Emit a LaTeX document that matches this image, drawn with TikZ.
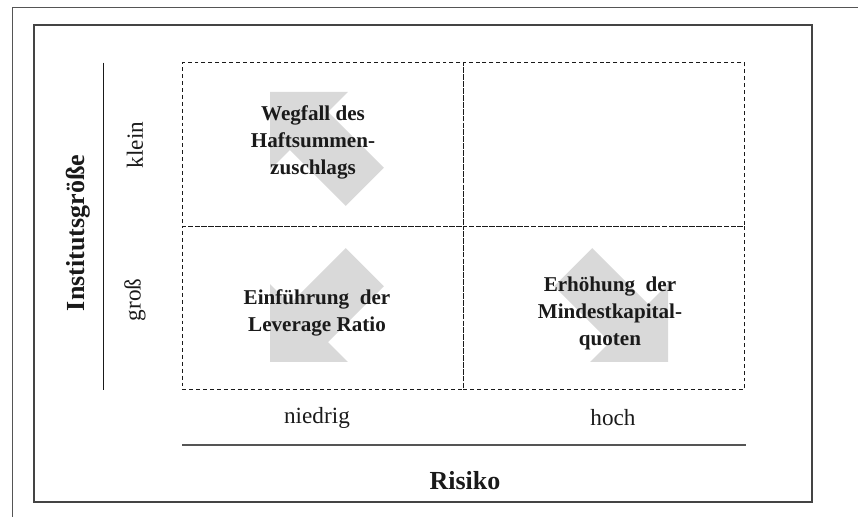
\documentclass[tikz,border=0pt]{standalone}
\usepackage{fontspec}
\setmainfont{Liberation Serif}
\usetikzlibrary{positioning,calc}
\definecolor{ink}{HTML}{1A1A1A}
\definecolor{frame}{HTML}{444444}
\definecolor{rulegray}{HTML}{555555}
\definecolor{arrowgray}{HTML}{D9D9D9}
\tikzset{cell/.style={draw=ink,dash pattern=on 2.8pt off 2.1pt,line width=0.7pt,minimum width=7.025cm,minimum height=4.0875cm,inner sep=0pt,outer sep=0pt},measure/.style={font=\fontsize{15}{19.2}\selectfont\bfseries,align=center,text=ink},level/.style={font=\fontsize{16.5}{19}\selectfont,text=ink},axis/.style={font=\fontsize{18.5}{22}\selectfont\bfseries,text=ink},blockarrow/.pic={\fill[arrowgray] (0,0)--(-55,55)--(-55,27)--(-134,27)--(-134,-27)--(-55,-27)--(-55,-55)--cycle;}}

\begin{document}
\begin{tikzpicture}[x=0.025cm,y=-0.025cm]
\useasboundingbox (0,0) rectangle (858,517);
\draw[rulegray,line width=0.6pt] (12,517)--(12,7)--(858,7);
\draw[frame,line width=1.1pt] (34,25) rectangle (812,502);
% matrix of the four cells
\node[cell] (smallLow) at (323,144.5) {};
\node[cell,right=0pt of smallLow] (smallHigh) {};
\node[cell,below=0pt of smallLow] (bigLow) {};
\node[cell,right=0pt of bigLow] (bigHigh) {};
\pic[rotate=135] at (270,92) {blockarrow};
\pic[rotate=225] at (270,362) {blockarrow};
\pic[rotate=-45] at (668,362) {blockarrow};
\node[measure] (surcharge) at (313,142) {Wegfall des\\Haftsummen-\\zuschlags};
\node[measure] (leverage) at (317,313) {Einführung\ \ der\\Leverage Ratio};
\node[measure] (capital) at (610,313) {Erhöhung\ \ der\\Mindestkapital-\\quoten};
% axes
\draw[ink,line width=0.8pt] ($(smallLow.north west)+(-79,0)$)--($(bigLow.south west)+(-79,0)$);
\draw[rulegray,line width=1.2pt] ($(bigLow.south west)+(0,55)$)--($(bigHigh.south east)+(1,55)$);
\node[level,rotate=90] (klein) at (135,145) {klein};
\node[level,rotate=90] (gross) at (135,300) {groß};
\node[axis,rotate=90] (size) at (78,233) {Institutsgröße};
\node[level] (niedrig) at (317,418) {niedrig};
\node[level] (hoch) at (613,418) {hoch};
\node[axis] (risk) at (465,481) {Risiko};
\end{tikzpicture}
\end{document}
